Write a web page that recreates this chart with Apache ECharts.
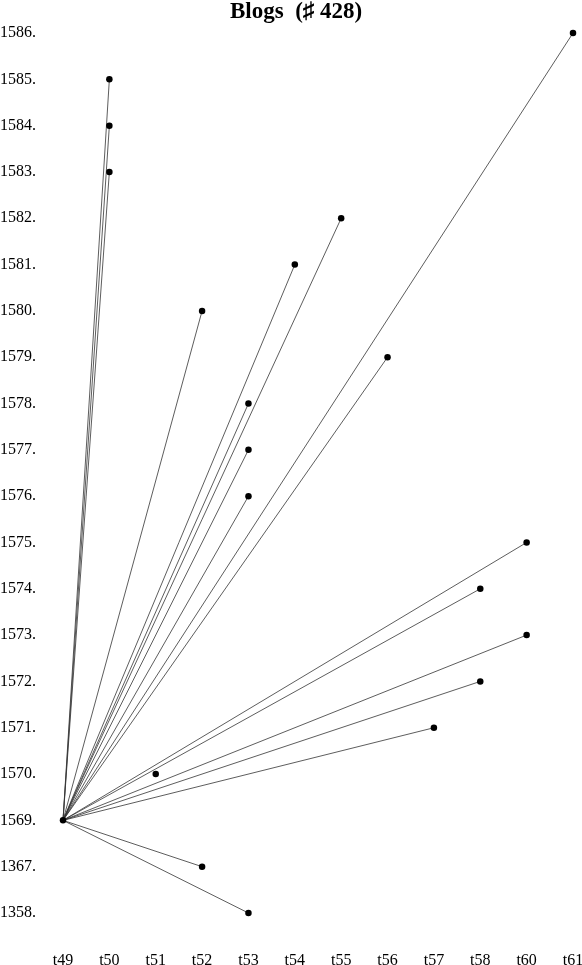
<!DOCTYPE html>
<html>
<head>
<meta charset="utf-8">
<script src="https://cdn.jsdelivr.net/npm/echarts@6/dist/echarts.min.js"></script>
<style>
  html, body { margin: 0; padding: 0; background: #fff; overflow: hidden; }
  #chart { width: 582px; height: 965px; }
</style>
</head>
<body>
<div id="chart"></div>
<script>
// x categories (note: no t59) and y categories, bottom to top
const xCats = ['t49', 't50', 't51', 't52', 't53', 't54', 't55', 't56', 't57', 't58', 't60', 't61'];
const yCats = ['1358', '1367', '1569', '1570', '1571', '1572', '1573', '1574', '1575', '1576',
  '1577', '1578', '1579', '1580', '1581', '1582', '1583', '1584', '1585', '1586'];

// the common origin of the edges
const origin = ['t49', '1569'];

// end points joined to the origin
const targets = [
  ['t50', '1585'], ['t50', '1584'], ['t50', '1583'],
  ['t52', '1580'],
  ['t53', '1578'], ['t53', '1577'], ['t53', '1576'],
  ['t54', '1581'], ['t55', '1582'], ['t56', '1579'],
  ['t61', '1586'],
  ['t60', '1575'], ['t58', '1574'], ['t60', '1573'], ['t58', '1572'], ['t57', '1571'],
  ['t52', '1367'], ['t53', '1358']
];

// points drawn with no edge
const loose = [['t51', '1570']];

const serif = '"Liberation Serif", "Times New Roman", serif';

const chart = echarts.init(document.getElementById('chart'));

const edgeSeries = targets.map(t => ({
  type: 'line',
  data: [origin, t],
  symbol: 'none',
  silent: true,
  lineStyle: { color: '#333', width: 0.8 },
  z: 1
}));

chart.setOption({
  backgroundColor: '#fff',
  animation: false,
  title: {
    text: 'Blogs  (\u266F 428)',
    left: 225,
    top: -4,
    textStyle: { fontFamily: serif, fontWeight: 'bold', fontSize: 23, color: '#000' }
  },
  grid: { left: 63, right: 9, top: 33, bottom: 52, outerBoundsMode: 'none', containLabel: false },
  xAxis: {
    type: 'category',
    data: xCats,
    boundaryGap: false,
    axisLine: { show: false },
    axisTick: { show: false },
    splitLine: { show: false },
    axisLabel: { color: '#000', fontFamily: serif, fontSize: 16, margin: 40, interval: 0 }
  },
  yAxis: {
    type: 'category',
    data: yCats,
    boundaryGap: false,
    axisLine: { show: false },
    axisTick: { show: false },
    splitLine: { show: false },
    axisLabel: {
      color: '#000', fontFamily: serif, fontSize: 16, margin: 27, interval: 0,
      formatter: '{value}.'
    }
  },
  series: [
    ...edgeSeries,
    {
      type: 'scatter',
      data: [origin, ...targets, ...loose],
      symbol: 'circle',
      symbolSize: 6.5,
      itemStyle: { color: '#000', opacity: 1 },
      z: 3
    }
  ]
});
</script>
</body>
</html>
